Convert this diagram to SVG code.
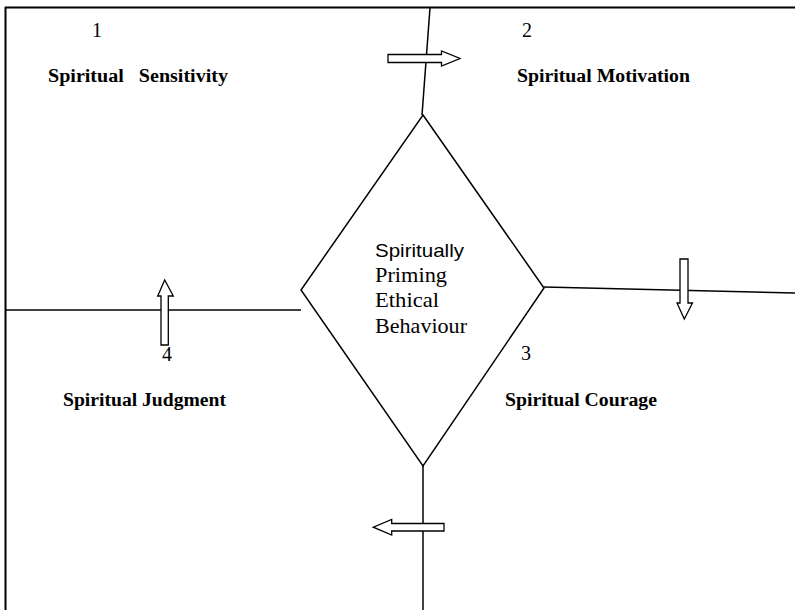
<svg xmlns="http://www.w3.org/2000/svg" width="795" height="610" viewBox="0 0 795 610">
<style>
.ln{stroke:#000;stroke-width:1.5;fill:none}
.ar{stroke:#000;stroke-width:1.3;fill:#fff}
.num{font-family:"Liberation Serif",serif;font-size:20px;fill:#000}
.lab{font-family:"Liberation Serif",serif;font-size:18.5px;font-weight:bold;fill:#000}
.ser{font-family:"Liberation Serif",serif;font-size:21px;fill:#000}
.sans{font-family:"Liberation Sans",sans-serif;font-size:18.5px;fill:#000}
</style>
<rect width="795" height="610" fill="#fff"/>
<g id="connectors">
<line class="ln" x1="5" y1="7.5" x2="795" y2="7.5" style="stroke-width:2"/>
<line class="ln" x1="5.5" y1="7" x2="5.5" y2="610" style="stroke-width:2"/>
<line class="ln" x1="430" y1="8" x2="422" y2="115"/>
<line class="ln" x1="5" y1="310" x2="301" y2="310"/>
<line class="ln" x1="544" y1="287" x2="795" y2="293"/>
<line class="ln" x1="423" y1="466" x2="423" y2="610"/>
<polygon class="ar" points="388,54.5 441.5,54.5 441.5,51 460,58.5 441.5,66 441.5,62.5 388,62.5"/>
<polygon class="ar" points="680,259 688,259 688,303 692.5,303 684.3,319 677,303 680,303"/>
<polygon class="ar" points="161,345 168.3,345 168.3,296 173.3,296 164.7,280 157.7,296 161,296"/>
<polygon class="ar" points="444,523.5 391.7,523.5 391.7,519.5 373.3,527.2 391.7,535 391.7,531 444,531"/>
</g>
<g id="center">
<polygon class="ln" points="423,115 544,288 423,466 301,290"/>
<text class="sans" x="375" y="257" textLength="89" lengthAdjust="spacingAndGlyphs">Spiritually</text>
<text class="ser" x="375" y="282" textLength="72" lengthAdjust="spacingAndGlyphs">Priming</text>
<text class="ser" x="375" y="307" textLength="64" lengthAdjust="spacingAndGlyphs">Ethical</text>
<text class="ser" x="375" y="333" textLength="92" lengthAdjust="spacingAndGlyphs">Behaviour</text>
</g>
<g id="q1">
<text class="num" x="92" y="37">1</text>
<text class="lab" x="48" y="82" textLength="180" lengthAdjust="spacingAndGlyphs" xml:space="preserve">Spiritual   Sensitivity</text>
</g>
<g id="q2">
<text class="num" x="522" y="37">2</text>
<text class="lab" x="517" y="82" textLength="173" lengthAdjust="spacingAndGlyphs">Spiritual Motivation</text>
</g>
<g id="q3">
<text class="num" x="521" y="360">3</text>
<text class="lab" x="505" y="406" textLength="152" lengthAdjust="spacingAndGlyphs">Spiritual Courage</text>
</g>
<g id="q4">
<text class="num" x="162" y="361">4</text>
<text class="lab" x="63" y="406" textLength="163" lengthAdjust="spacingAndGlyphs">Spiritual Judgment</text>
</g>
</svg>
